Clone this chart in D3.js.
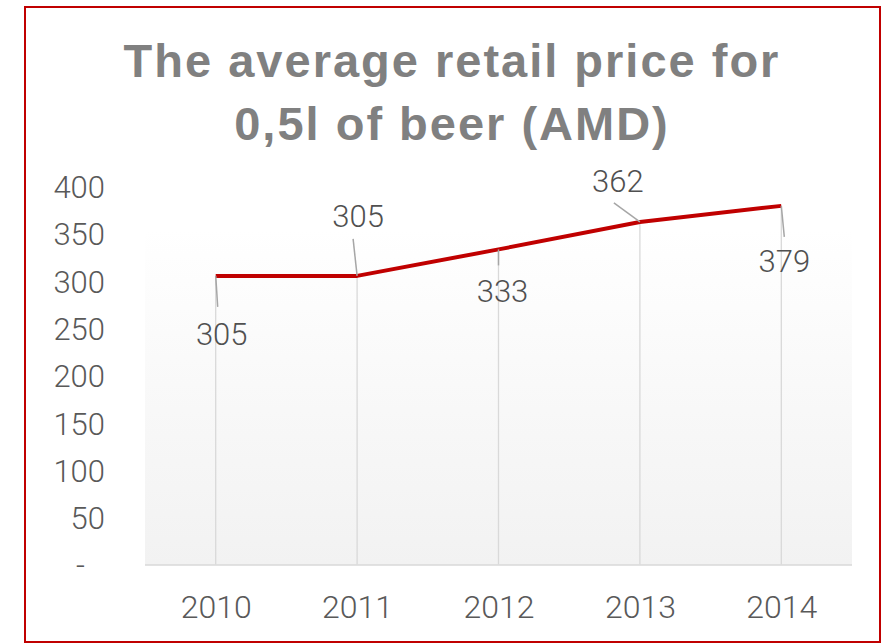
<!DOCTYPE html>
<html>
<head>
<meta charset="utf-8">
<script src="https://cdn.jsdelivr.net/npm/d3@7"></script>
<style>
  html, body { margin: 0; padding: 0; background: #ffffff; }
  svg { display: block; }
</style>
</head>
<body>
<svg id="chart" width="887" height="644"></svg>
<script>
// Average retail price of a 0.5 l beer, in Armenian dram
const years = ["2010", "2011", "2012", "2013", "2014"];
const prices = [305, 305, 333, 362, 379];
const yTicks = [0, 50, 100, 150, 200, 250, 300, 350, 400];
const titleLines = ["The average retail price for", "0,5l of beer (AMD)"];

// Data-label placement relative to each point: label centre offset and leader end
const labelOffsets = [
  { dx: 6,   dy: 69,  lx2: 2,   ly2: 31 },
  { dx: 1,   dy: -49, lx2: -4,  ly2: -37 },
  { dx: 4,   dy: 53,  lx2: 0,   ly2: 16 },
  { dx: -22, dy: -30, lx2: -26, ly2: -19 },
  { dx: 3,   dy: 66,  lx2: 3,   ly2: 31 }
];

const svg = d3.select("#chart");
const plot = { left: 145, right: 852, top: 229, bottom: 565 };

const x = d3.scalePoint().domain(years).range([plot.left, plot.right]).padding(0.5);
const y = d3.scaleLinear().domain([0, 400]).range([564.5, 186]);

// Outer frame
svg.append("rect")
  .attr("x", 25).attr("y", 7).attr("width", 855).attr("height", 635)
  .attr("fill", "#ffffff").attr("stroke", "#c00000").attr("stroke-width", 2);

// Title
svg.append("g").selectAll("text").data(titleLines).join("text")
  .attr("x", 452).attr("y", (d, i) => 77 + i * 63)
  .attr("text-anchor", "middle")
  .attr("font-family", "'Liberation Sans', Arial, sans-serif")
  .attr("font-weight", "bold")
  .attr("font-size", 47)
  .attr("letter-spacing", 2)
  .attr("fill", "#808080")
  .text(d => d);

// Plot area fill
const defs = svg.append("defs");
const grad = defs.append("linearGradient").attr("id", "plotFill")
  .attr("x1", 0).attr("y1", 0).attr("x2", 0).attr("y2", 1);
grad.append("stop").attr("offset", "0%").attr("stop-color", "#ffffff");
grad.append("stop").attr("offset", "100%").attr("stop-color", "#f2f2f2");

svg.append("rect")
  .attr("x", plot.left).attr("y", plot.top)
  .attr("width", plot.right - plot.left).attr("height", plot.bottom - plot.top)
  .attr("fill", "url(#plotFill)");

// Drop lines from each point to the category axis
svg.append("g").selectAll("line").data(prices).join("line")
  .attr("x1", (d, i) => x(years[i])).attr("x2", (d, i) => x(years[i]))
  .attr("y1", d => y(d)).attr("y2", y(0))
  .attr("stroke", "#d9d9d9").attr("stroke-width", 1.3);

// Category axis line
svg.append("line")
  .attr("x1", plot.left).attr("x2", plot.right)
  .attr("y1", 565).attr("y2", 565)
  .attr("stroke", "#d9d9d9").attr("stroke-width", 1.5);

const tickFont = "Roboto, 'Noto Sans', sans-serif";

// Value axis
const yAxis = svg.append("g")
  .attr("transform", `translate(${plot.left},0)`)
  .call(d3.axisLeft(y).tickValues(yTicks).tickSize(0).tickPadding(40)
    .tickFormat(d => d === 0 ? "-" : d3.format("d")(d)));
yAxis.select(".domain").remove();
yAxis.selectAll("text")
  .attr("font-family", tickFont).attr("font-weight", 300)
  .attr("font-size", 31).attr("fill", "#595959")
  .attr("dy", "0.37em")
  .attr("dx", d => d === 0 ? -20 : 0);

// Category axis labels
const xAxis = svg.append("g")
  .attr("transform", `translate(0,565)`)
  .call(d3.axisBottom(x).tickSize(0).tickPadding(30));
xAxis.select(".domain").remove();
xAxis.selectAll("text")
  .attr("font-family", tickFont).attr("font-weight", 300)
  .attr("font-size", 32).attr("fill", "#595959");

// Price line
const line = d3.line().x((d, i) => x(years[i])).y(d => y(d));
svg.append("path").datum(prices)
  .attr("d", line)
  .attr("fill", "none").attr("stroke", "#c00000")
  .attr("stroke-width", 4).attr("stroke-linejoin", "round");

// Leader lines and data labels
const labels = svg.append("g");
labels.selectAll("line").data(prices).join("line")
  .attr("x1", (d, i) => x(years[i]))
  .attr("y1", d => y(d))
  .attr("x2", (d, i) => x(years[i]) + labelOffsets[i].lx2)
  .attr("y2", (d, i) => y(d) + labelOffsets[i].ly2)
  .attr("stroke", "#a6a6a6").attr("stroke-width", 1.5);

labels.selectAll("text").data(prices).join("text")
  .attr("x", (d, i) => x(years[i]) + labelOffsets[i].dx)
  .attr("y", (d, i) => y(d) + labelOffsets[i].dy)
  .attr("text-anchor", "middle")
  .attr("font-family", tickFont).attr("font-weight", 300)
  .attr("font-size", 31).attr("fill", "#505050")
  .text(d => d);
</script>
</body>
</html>
